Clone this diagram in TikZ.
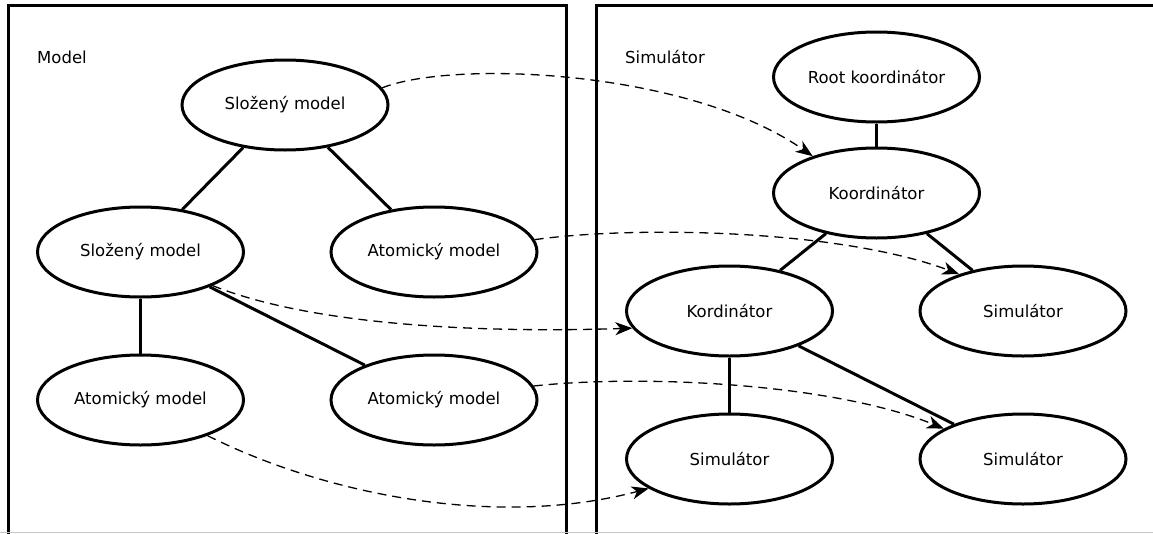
\documentclass[tikz,border=0pt]{standalone}
\usepackage{fontspec}
\setmainfont{DejaVu Sans}
\usetikzlibrary{shapes.geometric,arrows.meta}
\begin{document}
\begin{tikzpicture}[x=1pt,y=-1pt,
  ell/.style={ellipse,draw,line width=3pt,minimum width=206pt,minimum height=90pt,inner sep=0pt,font=\fontsize{16.5}{20}\selectfont},
  frame/.style={draw,line width=3pt},
  link/.style={line width=3pt},
  flow/.style={line width=1.3pt,dash pattern=on 9pt off 6pt,-{Stealth[length=17pt,width=13pt,inset=5pt]}},
  lbl/.style={anchor=west,inner sep=0pt,font=\fontsize{16.5}{20}\selectfont}]
\clip (0,0) rectangle (1153,533);
\fill[white] (0,0) rectangle (1153,533);
\draw[frame] (8.5,5.5) rectangle (566.5,560);
\draw[frame] (596.5,5.5) rectangle (1170,560);
\draw[gray!45,line width=1pt] (0,532.5) -- (1153,532.5);

\node[lbl] (mlab) at (37,57) {Model};
\node[lbl] (slab) at (625,57) {Simulátor};

\node[ell] (sm1) at (285,105) {Složený model};
\node[ell] (sm2) at (140.5,252) {Složený model};
\node[ell] (am1) at (434,252) {Atomický model};
\node[ell] (am2) at (140.5,400) {Atomický model};
\node[ell] (am3) at (434,400) {Atomický model};

\node[ell] (rk) at (876.5,77) {Root koordinátor};
\node[ell] (ko) at (876.5,193) {Koordinátor};
\node[ell] (kd) at (729.5,311) {Kordinátor};
\node[ell] (s1) at (1023,311) {Simulátor};
\node[ell] (s2) at (729.5,459) {Simulátor};
\node[ell] (s3) at (1023,459) {Simulátor};

\draw[link] (sm1) -- (sm2);
\draw[link] (sm1) -- (am1);
\draw[link] (sm2) -- (am2);
\draw[link] (sm2) -- (am3);
\draw[link] (rk) -- (ko);
\draw[link] (ko) -- (kd);
\draw[link] (ko) -- (s1);
\draw[link] (kd) -- (s2);
\draw[link] (kd) -- (s3);

\draw[flow] (sm1.10) .. controls +(70,-28) and +(-125,-87) .. (ko.150);
\draw[flow] (am1.7) .. controls +(100,-14) and +(-120,-45) .. (s1.150);
\draw[flow] (sm2.-25) .. controls +(100,40) and +(-150,5) .. (kd.190);
\draw[flow] (am3.8) .. controls +(110,-12) and +(-110,-45) .. (s3.159);
\draw[flow] (am2.-28) .. controls +(120,60) and +(-150,40) .. (s2.200);
\end{tikzpicture}
\end{document}
